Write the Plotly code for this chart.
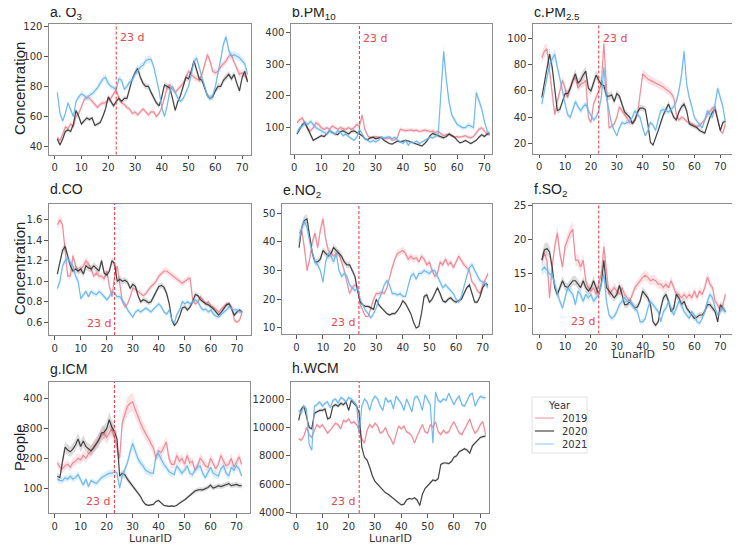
import plotly.graph_objects as go

# The html page body keeps its default 8px margin, so the figure is laid out in
# reference pixels minus that offset and sized to fill the rest of the window.
OFF = 8
W, H = 740 - OFF, 545 - OFF
X = list(range(1, 73))
YEARS = ["2019", "2020", "2021"]
XTICKS = [0, 10, 20, 30, 40, 50, 60, 70]

O3_2019 = [46,44,48,53,52,55,53,60,62,66, 71,73,72,70,68,66,68,69,69,71, 72,75,78,72,69,68,66,65,62,63,
           61,63,65,63,61,63,63,60,62,66, 72,79,81,78,76,78,80,82,86,90, 88,86,85,84,88,95,101,97,90,89,
           90,93,95,97,100,101,96,92,88,89, 87,84]
O3_2020 = [45,41,45,50,51,50,55,64,60,55, 57,59,58,59,54,55,56,60,65,73, 70,67,70,72,70,72,72,78,85,89,
           92,86,82,80,80,76,72,69,67,73, 81,80,79,72,64,70,74,80,86,85, 90,97,90,85,84,79,74,72,73,77,
           80,80,84,86,88,85,88,82,77,86, 90,83]
O3_2021 = [76,62,57,62,69,65,60,70,73,75, 74,72,74,75,77,79,82,85,86,82, 80,79,78,85,84,78,80,83,84,88,
           90,93,94,97,98,98,93,85,77,66, 60,67,77,80,76,72,70,72,76,80, 88,96,99,92,86,80,74,72,74,80,
           88,98,108,113,104,100,101,100,99,97, 95,88]

PM10_2019 = [115,125,130,110,95,90,100,115,110,100, 95,100,95,105,100,95,100,98,95,100, 95,100,110,105,140,95,75,68,70,72,
             70,68,66,65,68,60,62,70,95,92, 90,92,93,90,92,88,90,92,90,88, 90,85,88,80,75,78,80,75,70,72,
             70,72,75,70,68,72,85,95,100,90, 80,78]
PM10_2020 = [80,95,110,115,95,75,60,65,70,75, 72,80,90,85,80,78,88,90,85,80, 88,90,85,80,75,65,62,68,70,65,
             68,70,60,55,50,48,52,58,55,58, 60,58,55,50,48,45,42,50,60,75, 82,78,75,70,68,72,80,75,70,60,
             52,55,60,55,50,55,60,70,78,72, 80,82]
PM10_2021 = [85,100,105,115,110,120,110,100,95,90, 85,80,90,85,80,90,85,75,80,72, 65,60,70,95,80,65,60,55,60,55,
             60,70,68,70,72,65,70,62,55,50, 60,45,55,52,58,50,55,60,65,70, 68,72,80,200,340,250,180,140,125,110,
             105,100,100,108,105,100,210,185,160,120, 90,80]

PM25_2019 = [85,90,92,75,55,42,52,60,68,62, 55,62,68,70,62,65,66,68,40,36, 50,55,60,65,96,65,32,33,35,40,
             48,45,42,38,36,36,38,42,60,73, 71,69,68,67,66,65,64,63,61,60, 58,55,42,38,40,39,37,36,35,34,
             33,34,36,38,42,45,47,48,40,30, 28,35]
PM25_2020 = [55,66,80,88,78,60,45,46,53,58, 58,62,68,73,66,68,72,75,62,60, 66,72,68,65,64,56,56,57,52,58,
             56,50,44,42,40,35,38,44,47,47, 46,35,21,19,24,30,36,42,46,50, 45,40,38,44,48,50,45,35,34,33,
             32,30,29,28,34,40,44,46,38,30, 36,37]
PM25_2021 = [50,60,72,80,84,88,78,70,60,50, 42,40,46,52,48,45,48,50,45,42, 38,40,45,55,78,55,45,35,30,26,
             32,36,35,36,37,40,45,42,40,32, 26,30,36,34,30,38,45,46,45,44, 46,48,52,60,72,90,65,55,48,40,
             37,34,32,38,45,42,40,50,62,55, 48,36]

CO_2019 = [1.55,1.6,1.55,1.3,1.05,1.05,1.25,1.15,1.1,1.12, 1.15,1.2,1.17,1.12,1.05,1.08,1.05,1.05,1.02,1.1,
           0.95,0.85,1.05,1.15,0.95,0.8,0.75,0.78,0.85,0.93, 0.92,0.9,0.88,0.86,0.88,0.92,0.95,0.97,1.0,1.05,
           1.08,1.1,1.1,1.08,1.06,1.04,1.02,1.0,0.98,1.0, 1.02,1.03,0.82,0.78,0.8,0.85,0.82,0.78,0.8,0.76,
           0.75,0.72,0.7,0.73,0.76,0.78,0.78,0.75,0.62,0.6, 0.62,0.7]
CO_2020 = [1.07,1.2,1.3,1.34,1.25,1.15,1.1,1.12,1.1,1.12, 1.07,1.15,1.13,1.12,1.15,1.12,1.1,1.2,1.08,1.06,
           1.1,1.2,1.17,1.0,1.02,1.0,1.01,0.99,0.93,0.97, 0.95,0.86,0.8,0.82,0.81,0.79,0.8,0.85,0.9,0.95,
           0.96,0.94,0.88,0.78,0.62,0.57,0.6,0.66,0.74,0.75, 0.72,0.75,0.8,0.87,0.86,0.82,0.8,0.78,0.77,0.75,
           0.73,0.7,0.67,0.7,0.74,0.77,0.78,0.72,0.67,0.7, 0.72,0.7]
CO_2021 = [0.93,1.0,1.15,1.2,1.22,1.18,1.15,1.05,1.0,0.83, 0.86,0.9,0.85,0.9,0.88,0.87,0.9,0.88,0.85,0.82,
           0.85,0.9,0.88,0.85,0.85,0.82,0.78,0.72,0.68,0.65, 0.7,0.72,0.7,0.72,0.74,0.72,0.7,0.73,0.76,0.78,
           0.75,0.7,0.68,0.72,0.62,0.6,0.68,0.72,0.8,0.78, 0.8,0.78,0.8,0.82,0.8,0.75,0.72,0.73,0.7,0.72,
           0.68,0.66,0.65,0.68,0.7,0.72,0.75,0.73,0.72,0.72, 0.7,0.7]

NO2_2019 = [43,44,38,30,34,40,43,38,44,48, 41,37,36,35,36,36,33,30,26,22, 24,25,24,18,16,14,14,17,20,22,
            22,22.5,22,24,28,31,34,36,36.5,37, 36,34,35,34,34.5,33,35,34,32,33, 30,28,29,33,32,34,32,33,31,33,
            35,33.5,32,31,30,26,25,23,22,25, 27,29]
NO2_2020 = [38,45,47.5,48,42,36,33,33,34,37, 36,35,36,38,37,36,35,33,32,32, 30,28,23,19,18,17.5,17.5,17,16.5,20,
            18,17,16,15,14.5,15,15,16,17.5,19.5, 18.5,17,15,12,10,10.5,15,21,21.5,19, 20,22,24,22,19.5,19,20,20.5,19.5,19,
            19.5,20,22,24,25,22,19,19,21,24, 25.5,25]
NO2_2021 = [40,45,47,45,40,36,33,32,30,26, 33,36,35,33,36,30,28,29,28,25, 24,23,24,20,18,16,15,13.5,15,17,
            20,22,25,26.5,25,22,22,21.5,22,21, 21,25,28,29,27,29,29,30,29.5,29, 30,30,28,26,24,25,24,23,22,20,
            19,21,25,28,31,32,30,28,26.5,26, 25.5,24]

SO2_2019 = [17,18,17,11.5,16,19,21,18,16,19, 20,21,21.5,17,17,16,17,14,13,12.5, 13,12,13.5,15,19,15,12,12.5,13,12.5,
            12,13,12,11.5,11,12,13,13.5,14,14.5, 14.8,14.5,14,14.2,14,13.5,13.5,13,13.5,13, 14,13,12,12,11.5,12,11.5,12,11.5,12.5,
            11.5,12.5,12,13,14.5,13.5,13,11,10.5,9.5, 10.5,12]
SO2_2020 = [17,18.5,18.7,18.2,16,13,12,13,14,13.2, 13,13.5,14,14,13.5,13,14,13,12.5,13, 14,13,12,13.5,17,13,12.5,12,11.5,12,
            13.3,12,10.5,10.5,11,10.5,10,10.2,11,12.5, 12,11.5,10.5,8,7.5,8,10,11.5,12,11, 9.5,10,12,11.5,10.5,11,10,9.5,9,8.5,
            8.7,9,9,9.5,10.5,10.5,10,9.5,8,10.5, 10,9.5]
SO2_2021 = [15.5,16,15.5,15,14.8,13.5,12,11,10,11.5, 13,12.5,12,10.5,12.5,12,11,12,11.5,12, 11,11.5,12,13.5,15,11,9,8.5,8.8,9.5,
            10.5,11,11.5,11,11,10.5,10,9.5,8,8, 8.5,10,11,10.5,10,9.5,8,9.5,10,11, 10,9,10,11,10.5,9.5,9,8.5,9.5,9,
            8,7.8,8.5,9.5,11,12,11.5,10,9,9.5, 10,9.5]

ICM_2019 = [185,170,165,175,180,170,185,190,200,195, 210,200,215,225,240,250,265,275,285,270, 285,300,270,230,200,320,345,375,385,390,
            365,340,320,300,285,265,250,235,200,225, 220,235,255,200,180,180,210,190,200,180, 210,185,190,160,175,200,190,175,170,200,
            185,165,180,210,190,175,180,200,170,190, 205,180]
ICM_2020 = [140,135,190,238,228,222,232,245,265,240, 258,240,232,225,235,250,262,285,288,300, 330,305,290,265,140,150,145,130,118,108,
            98,85,72,55,45,42,43,45,55,58, 50,42,40,38,40,38,42,50,55,60, 68,75,82,90,93,95,94,97,102,110,
            100,103,108,105,108,112,115,108,110,112, 108,108]
ICM_2021 = [130,125,125,135,130,140,130,135,145,125, 110,130,105,125,120,115,125,135,140,145, 150,150,155,150,100,140,160,185,220,250,
            225,200,185,175,160,155,150,150,210,215, 195,180,170,155,150,145,175,160,150,160, 175,150,145,160,170,175,150,135,155,170,
            150,145,140,165,175,150,140,170,160,175, 165,140]

WCM_2019 = [9200,9100,9400,10000,9500,9300,9800,10200,10000,10200, 9900,9600,9800,10100,10300,10200,9900,10500,10400,10600,
            10300,10400,10200,9800,9200,8900,9800,10200,10000,10300, 10100,9600,9700,10000,9500,9200,8800,9500,10100,9900,
            10100,9700,9600,9400,8900,9400,9800,10200,9700,9600, 10200,10000,10400,9700,9500,9800,9600,9700,10100,10400,
            10000,9600,9500,9900,10300,10600,10000,9600,9800,10200, 10400,9500]
WCM_2020 = [10500,11300,11500,10800,10000,9900,11000,11100,11200,11200, 11300,10600,10700,11500,11600,11500,11700,11600,11800,11200,
            11900,11700,11500,11000,8600,7900,7700,7200,6600,6200, 6000,5800,5600,5400,5300,5150,5000,4800,4650,4550,
            4600,4900,5000,4950,5050,4900,4500,5300,5700,5900, 6100,6300,6250,6400,7400,7500,7500,7450,7600,7900,
            8000,8300,8400,8500,8400,8200,8700,8900,9100,9300, 9350,9400]
WCM_2021 = [11200,11000,11500,11300,8800,8400,11500,11600,11800,11500, 11700,11800,11400,11900,12000,11700,12100,12000,11800,12100,
            12000,11800,11600,9600,11500,12000,11800,11200,11900,12200, 12000,11500,11200,12100,11800,11900,11300,12200,11900,11700,
            11200,12000,11600,11100,12100,12200,11800,11200,12300,11900, 11600,8900,12500,11900,11800,12000,11900,12400,12000,11600,
            12000,12200,11600,11500,11900,12300,12400,11500,11900,12200, 12100,12100]

LINE_COLORS = ["rgba(236,130,145,0.9)", "rgba(50,50,50,0.9)", "rgba(100,180,236,0.9)"]
LEGEND_COLORS = ["#f0aab3", "#555555", "#a9d4f3"]
BAND_COLORS = ["rgba(238,140,152,0.25)", "rgba(60,60,60,0.18)", "rgba(116,188,239,0.25)"]
RED = "#e8474f"


def px(xp):
    return (xp - OFF) / W


def py(yp):
    return 1 - (yp - OFF) / H


PANELS = [
    dict(title="a. O<sub>3</sub>", ty=13, series=(O3_2019, O3_2020, O3_2021), box=(49, 251, 23.5, 154.5),
         yr=(34.7, 121.8), yt=[40, 60, 80, 100, 120], xr=(-2.1, 73.3), vx=23, top=True, band=0.025, fmt=None),
    dict(title="b.PM<sub>10</sub>", ty=13, series=(PM10_2019, PM10_2020, PM10_2021), box=(291, 492, 24, 154),
         yr=(17, 427), yt=[100, 200, 300, 400], xr=(-1.2, 72.8), vx=24, top=True, band=0.07, fmt=None),
    dict(title="c.PM<sub>2.5</sub>", ty=13, series=(PM25_2019, PM25_2020, PM25_2021), box=(533, 734, 24, 153.5),
         yr=(12.5, 110.8), yt=[20, 40, 60, 80, 100], xr=(-2.4, 75.3), vx=23, top=True, band=0.05, fmt=None),
    dict(title="d.CO", ty=189, series=(CO_2019, CO_2020, CO_2021), box=(49, 251, 204, 335),
         yr=(0.476, 1.753), yt=[0.6, 0.8, 1.0, 1.2, 1.4, 1.6], xr=(-2.2, 75.4), vx=23, top=False, band=0.03, fmt=".1f"),
    dict(title="e.NO<sub>2</sub>", ty=191, series=(NO2_2019, NO2_2020, NO2_2021), box=(282, 492, 204, 334),
         yr=(7.9, 53.2), yt=[10, 20, 30, 40, 50], xr=(-5.4, 73.5), vx=23.5, top=False, band=0.035, fmt=None),
    dict(title="f.SO<sub>2</sub>", ty=190, series=(SO2_2019, SO2_2020, SO2_2021), box=(533, 734, 204, 333.5),
         yr=(6.3, 25.2), yt=[10, 15, 20, 25], xr=(-2.4, 75.3), vx=23, top=False, band=0.05, fmt=None),
    dict(title="g.ICM", ty=369, series=(ICM_2019, ICM_2020, ICM_2021), box=(49, 250, 382, 513),
         yr=(16, 457), yt=[100, 200, 300, 400], xr=(-2.2, 75.2), vx=23, top=False, band=0.08, fmt=None),
    dict(title="h.WCM", ty=368, series=(WCM_2019, WCM_2020, WCM_2021), box=(291, 489, 382, 513),
         yr=(3980, 13200), yt=[4000, 6000, 8000, 10000, 12000], xr=(-1.9, 73.3), vx=24, top=False, band=0.012, fmt="d"),
]

fig = go.Figure()
shapes, annotations = [], []
TICKFONT = dict(family="DejaVu Sans", size=10, color="#333333")
layout = {}

for i, p in enumerate(PANELS, start=1):
    sfx = "" if i == 1 else str(i)
    xa, ya = f"x{sfx}", f"y{sfx}"
    x0, x1, y0, y1 = p["box"]
    for k, (vals, yr) in enumerate(zip(p["series"], YEARS)):
        up = [v * (1 + p["band"]) for v in vals]
        lo = [v * (1 - p["band"]) for v in vals]
        fig.add_trace(go.Scatter(x=X + X[::-1], y=up + lo[::-1], fill="toself", fillcolor=BAND_COLORS[k],
                                 line=dict(width=0), mode="lines", hoverinfo="skip", showlegend=False,
                                 xaxis=xa, yaxis=ya))
        fig.add_trace(go.Scatter(x=X, y=vals, mode="lines", line=dict(color=LINE_COLORS[k], width=1.2),
                                 name=yr, showlegend=False, xaxis=xa, yaxis=ya))
    layout[f"xaxis{sfx}"] = dict(domain=[px(x0), px(x1)], range=list(p["xr"]), tickvals=XTICKS,
                                 anchor=ya, showline=True, mirror=True, linecolor="#8c8c8c", linewidth=1.2,
                                 ticks="outside", ticklen=3.5, tickcolor="#555", tickfont=TICKFONT,
                                 showgrid=False, zeroline=False, automargin=False)
    yax = dict(domain=[py(y1), py(y0)], range=list(p["yr"]), tickvals=p["yt"],
               anchor=xa, showline=True, mirror=True, linecolor="#8c8c8c", linewidth=1.2,
               ticks="outside", ticklen=3.5, tickcolor="#555", tickfont=TICKFONT,
               showgrid=False, zeroline=False, automargin=False)
    if p["fmt"]:
        yax["tickformat"] = p["fmt"]
    layout[f"yaxis{sfx}"] = yax
    shapes.append(dict(type="line", xref=xa, yref=f"{ya} domain", x0=p["vx"], x1=p["vx"], y0=0, y1=1,
                       line=dict(color=RED, width=1.1, dash="3px,2px")))
    if p["top"]:
        annotations.append(dict(text="23 d", xref=xa, yref=f"{ya} domain", x=p["vx"], y=0.89,
                                xanchor="left", yanchor="middle", xshift=2, showarrow=False,
                                font=dict(family="DejaVu Sans", size=11, color=RED)))
    else:
        annotations.append(dict(text="23 d", xref=xa, yref=f"{ya} domain", x=p["vx"], y=0.09,
                                xanchor="right", yanchor="middle", xshift=-2, showarrow=False,
                                font=dict(family="DejaVu Sans", size=11, color=RED)))
    annotations.append(dict(text=p["title"], xref="paper", yref="paper", x=px(x0 - 1), y=py(p["ty"]),
                            xanchor="left", yanchor="middle", showarrow=False,
                            font=dict(family="Liberation Sans", size=14, color="#222")))

for txt, yc in [("Concentration", 89), ("Concentration", 269), ("People", 448)]:
    annotations.append(dict(text=txt, xref="paper", yref="paper", x=px(19), y=py(yc), textangle=-90,
                            xanchor="center", yanchor="middle", showarrow=False,
                            font=dict(family="Liberation Sans", size=15, color="#222")))
for xc, yc in [(633, 354), (150, 538), (390, 538)]:
    annotations.append(dict(text="LunarID", xref="paper", yref="paper", x=px(xc), y=py(yc),
                            xanchor="center", yanchor="middle", showarrow=False,
                            font=dict(family="DejaVu Sans", size=11, color="#333")))

# legend drawn as a small box (title, short line keys, year labels)
LEG_X0, LEG_X1, LEG_Y0, LEG_Y1 = 532, 587, 397, 453
shapes.append(dict(type="rect", xref="paper", yref="paper", x0=px(LEG_X0), x1=px(LEG_X1),
                   y0=py(LEG_Y1), y1=py(LEG_Y0), line=dict(color="#e2e2e2", width=1),
                   fillcolor="white", layer="above"))
annotations.append(dict(text="Year", xref="paper", yref="paper", x=px((LEG_X0 + LEG_X1) / 2), y=py(405),
                        xanchor="center", yanchor="middle", showarrow=False,
                        font=dict(family="DejaVu Sans", size=10, color="#333")))
for k, yr in enumerate(YEARS):
    yy = 418 + k * 13
    shapes.append(dict(type="line", xref="paper", yref="paper", x0=px(535), x1=px(554),
                       y0=py(yy), y1=py(yy), line=dict(color=LEGEND_COLORS[k], width=1.3)))
    annotations.append(dict(text=yr, xref="paper", yref="paper", x=px(560), y=py(yy),
                            xanchor="left", yanchor="middle", showarrow=False,
                            font=dict(family="DejaVu Sans", size=10, color="#333")))

fig.update_layout(
    width=W, height=H, margin=dict(l=0, r=0, t=0, b=0, autoexpand=False),
    paper_bgcolor="white", plot_bgcolor="white", showlegend=False,
    shapes=shapes, annotations=annotations,
    **layout,
)

fig.write_html("out.html")
